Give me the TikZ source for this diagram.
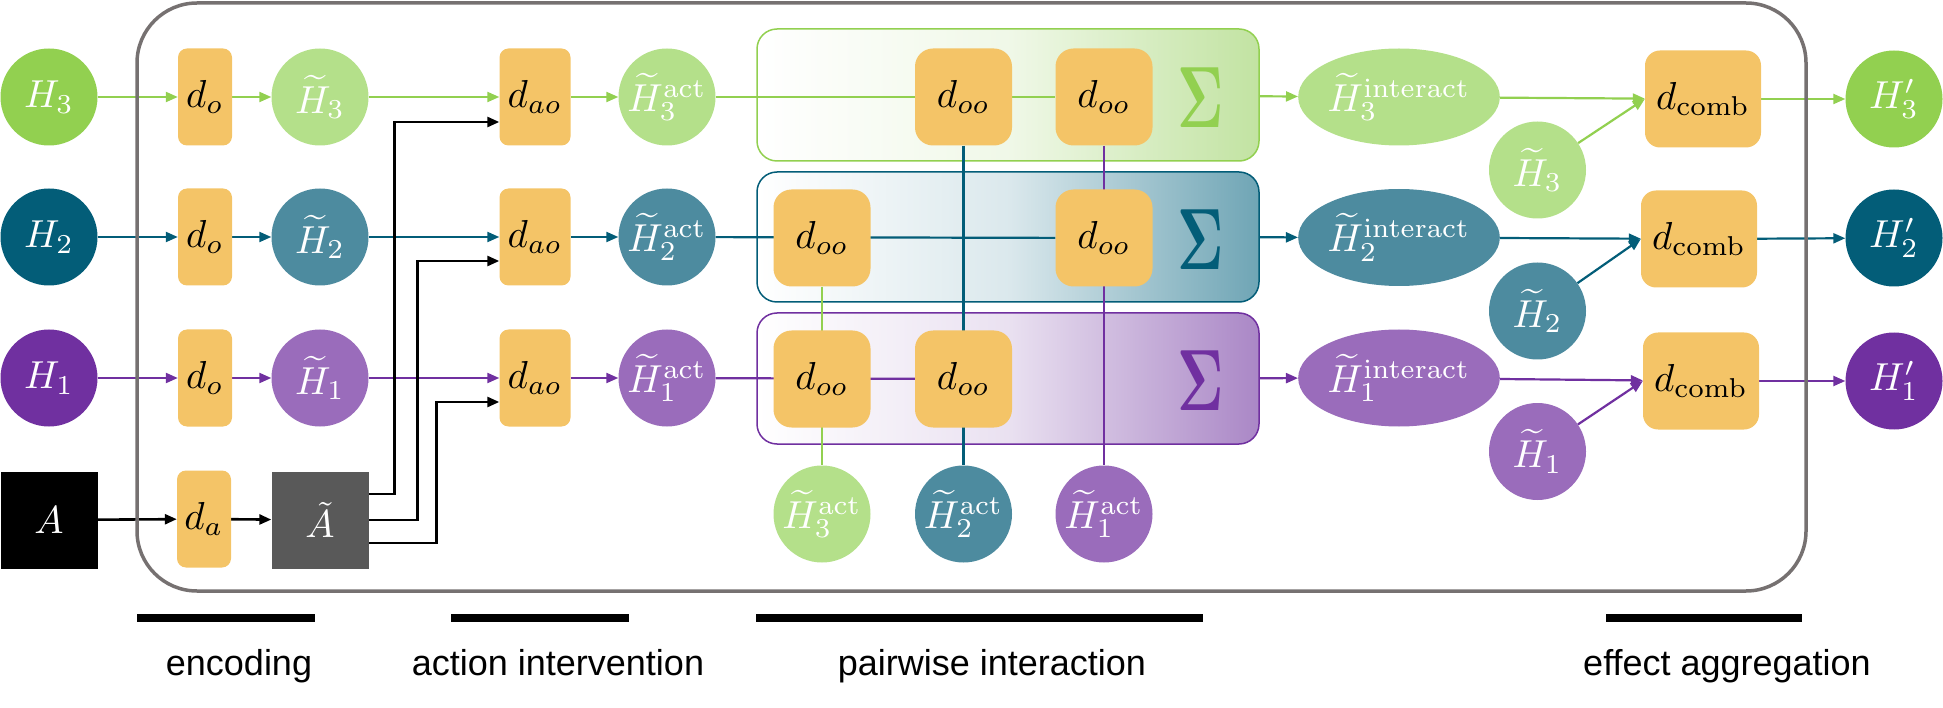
\documentclass[tikz,border=0pt]{standalone}
\usepackage{amsmath}
\usepackage{graphicx}
\usepackage[no-math]{fontspec}
\newfontfamily\stagefont{Liberation Sans}
\usepackage{xcolor}
\usepackage{tikz}
\usetikzlibrary{arrows.meta,positioning,calc,shapes.geometric}

\definecolor{grnD}{HTML}{92D050}
\definecolor{grnL}{HTML}{B4E08A}
\definecolor{grnS}{HTML}{C2E3A2}
\definecolor{bluD}{HTML}{035D78}
\definecolor{bluL}{HTML}{4D8B9F}
\definecolor{bluS}{HTML}{6FA5B5}
\definecolor{prpD}{HTML}{7030A0}
\definecolor{prpL}{HTML}{9A6CBB}
\definecolor{prpS}{HTML}{AA87C6}
\definecolor{blkL}{HTML}{595959}
\definecolor{boxO}{HTML}{F4C467}
\definecolor{frameG}{HTML}{767171}

\newcommand{\mt}[1]{\scalebox{3.9}{$#1$}}
\newcommand{\bigsum}{\scalebox{5.6}[8.7]{$\boldsymbol{\Sigma}$}}

\pgfdeclarelayer{back}
\pgfdeclarelayer{wires}
\pgfsetlayers{back,wires,main}

\begin{document}
\begin{tikzpicture}[x=1pt, y=-1pt,
    >={Triangle[length=12pt,width=10pt]},
    state/.style={circle, minimum size=97pt, inner sep=0pt, text=white},
    blob/.style={ellipse, minimum width=172pt, minimum height=97pt, inner sep=0pt, text=white},
    sq/.style={rectangle, minimum size=97pt, inner sep=0pt, text=white},
    enc/.style={rectangle, rounded corners=9pt, fill=boxO, minimum height=97pt, inner sep=0pt},
    pair/.style={enc, minimum width=97pt, rounded corners=18pt},
    group/.style={rectangle, rounded corners=20pt, line width=1.5pt, minimum width=502pt},
    sum/.style={inner sep=0pt},
    wire/.style={line width=2.2pt},
    blk/.style={line width=2.6pt, black},
    stage/.style={font=\stagefont\fontsize{36}{40}\selectfont, anchor=base},
    bar/.style={line width=8pt}]
    \useasboundingbox (0,0) rectangle (1943,708);

    % inputs
    \node[state, fill=grnD] (H3) at (49,97) {\mt{H_3}};
    \node[state, fill=bluD] (H2) at (49,237) {\mt{H_2}};
    \node[state, fill=prpD] (H1) at (49,378) {\mt{H_1}};
    \node[sq, fill=black] (A) at (49,520) {\mt{A}};

    % encoding
    \node[enc, minimum width=54pt] (do3) at (205,97) {\mt{d_o}};
    \node[enc, minimum width=54pt] (do2) at (205,237) {\mt{d_o}};
    \node[enc, minimum width=54pt] (do1) at (205,378) {\mt{d_o}};
    \node[enc, minimum width=54pt] (da) at (204,519) {\mt{d_a}};
    \node[state, fill=grnL] (Ht3) at (320,97) {\mt{\widetilde{H}_3}};
    \node[state, fill=bluL] (Ht2) at (320,237) {\mt{\widetilde{H}_2}};
    \node[state, fill=prpL] (Ht1) at (320,378) {\mt{\widetilde{H}_1}};
    \node[sq, fill=blkL] (At) at (320,520) {\mt{\tilde{A}}};

    % action intervention
    \node[enc, minimum width=71pt] (dao3) at (535,97) {\mt{d_{ao}}};
    \node[enc, minimum width=71pt] (dao2) at (535,237) {\mt{d_{ao}}};
    \node[enc, minimum width=71pt] (dao1) at (535,378) {\mt{d_{ao}}};
    \node[state, fill=grnL] (Ha3) at (667,97) {\mt{\widetilde{H}_3^{\mathrm{act}}}};
    \node[state, fill=bluL] (Ha2) at (667,237) {\mt{\widetilde{H}_2^{\mathrm{act}}}};
    \node[state, fill=prpL] (Ha1) at (667,378) {\mt{\widetilde{H}_1^{\mathrm{act}}}};

    % pairwise interaction
    \begin{pgfonlayer}{back}
    \node[group, minimum height=132pt, draw=grnD, left color=white, right color=grnS, middle color=grnS!25] (G3) at (1008,95) {};
    \node[group, minimum height=130pt, draw=bluD, left color=white, right color=bluS, middle color=bluS!25] (G2) at (1008,237) {};
    \node[group, minimum height=131pt, draw=prpD, left color=white, right color=prpS, middle color=prpS!25] (G1) at (1008,378.5) {};
    \end{pgfonlayer}
    \node[pair] (doo3b) at (963.5,97) {\mt{d_{oo}}};
    \node[pair] (doo3c) at (1104,97) {\mt{d_{oo}}};
    \node[pair] (doo2a) at (822,238) {\mt{d_{oo}}};
    \node[pair] (doo2c) at (1104,238) {\mt{d_{oo}}};
    \node[pair] (doo1a) at (822,379) {\mt{d_{oo}}};
    \node[pair] (doo1b) at (963.5,379) {\mt{d_{oo}}};
    \node[sum, text=grnD] (sum3) at (1201,98) {\bigsum};
    \node[sum, text=bluD] (sum2) at (1201,240) {\bigsum};
    \node[sum, text=prpD] (sum1) at (1201,381) {\bigsum};
    \node[state, fill=grnL] (Hb3) at (822,514) {\mt{\widetilde{H}_3^{\mathrm{act}}}};
    \node[state, fill=bluL] (Hb2) at (963.5,514) {\mt{\widetilde{H}_2^{\mathrm{act}}}};
    \node[state, fill=prpL] (Hb1) at (1104,514) {\mt{\widetilde{H}_1^{\mathrm{act}}}};

    % effect aggregation
    \node[blob, fill=grnL] (Hi3) at (1399,97) {\mt{\widetilde{H}_3^{\mathrm{interact}}}};
    \node[blob, fill=bluL] (Hi2) at (1399,237.5) {\mt{\widetilde{H}_2^{\mathrm{interact}}}};
    \node[blob, fill=prpL] (Hi1) at (1399,378) {\mt{\widetilde{H}_1^{\mathrm{interact}}}};
    \node[state, fill=grnL] (Hs3) at (1537.5,170) {\mt{\widetilde{H}_3}};
    \node[state, fill=bluL] (Hs2) at (1537.5,311) {\mt{\widetilde{H}_2}};
    \node[state, fill=prpL] (Hs1) at (1537.5,451.5) {\mt{\widetilde{H}_1}};
    \node[enc, minimum width=116pt, rounded corners=15pt] (dc3) at (1703,99) {\mt{d_{\mathrm{comb}}}};
    \node[enc, minimum width=116pt, rounded corners=15pt] (dc2) at (1699,239) {\mt{d_{\mathrm{comb}}}};
    \node[enc, minimum width=116pt, rounded corners=15pt] (dc1) at (1701,381) {\mt{d_{\mathrm{comb}}}};
    \node[state, fill=grnD] (Hp3) at (1894,99) {\mt{H_3'}};
    \node[state, fill=bluD] (Hp2) at (1894,238) {\mt{H_2'}};
    \node[state, fill=prpD] (Hp1) at (1894,381) {\mt{H_1'}};

    \begin{pgfonlayer}{wires}
    % row 3
    \draw[wire, grnD, ->] (H3) -- (do3);
    \draw[wire, grnD, ->] (do3) -- (Ht3);
    \draw[wire, grnD, ->] (Ht3) -- (dao3);
    \draw[wire, grnD, ->] (dao3) -- (Ha3);
    \draw[wire, grnD] (Ha3) -- (doo3c);
    \draw[wire, grnD, ->] (G3) -- (Hi3);
    \draw[wire, grnD, ->] (Hi3) -- (dc3);
    \draw[wire, grnD, ->] (Hs3) -- (dc3.west);
    \draw[wire, grnD, ->] (dc3) -- (Hp3);
    % row 2
    \draw[wire, bluD, ->] (H2) -- (do2);
    \draw[wire, bluD, ->] (do2) -- (Ht2);
    \draw[wire, bluD, ->] (Ht2) -- (dao2);
    \draw[wire, bluD, ->] (dao2) -- (Ha2);
    \draw[wire, bluD] (Ha2) -- (doo2c);
    \draw[wire, bluD, ->] (G2) -- (Hi2);
    \draw[wire, bluD, ->] (Hi2) -- (dc2);
    \draw[wire, bluD, ->] (Hs2) -- (dc2.west);
    \draw[wire, bluD, ->] (dc2) -- (Hp2);
    % row 1
    \draw[wire, prpD, ->] (H1) -- (do1);
    \draw[wire, prpD, ->] (do1) -- (Ht1);
    \draw[wire, prpD, ->] (Ht1) -- (dao1);
    \draw[wire, prpD, ->] (dao1) -- (Ha1);
    \draw[wire, prpD] (Ha1) -- (doo1b);
    \draw[wire, prpD, ->] (G1) -- (Hi1);
    \draw[wire, prpD, ->] (Hi1) -- (dc1);
    \draw[wire, prpD, ->] (Hs1) -- (dc1.west);
    \draw[wire, prpD, ->] (dc1) -- (Hp1);
    % pairs
    \draw[wire, grnD] (doo2a) -- (Hb3);
    \draw[wire, bluD] (doo3b) -- (Hb2);
    \draw[wire, prpD] (doo3c) -- (Hb1);
    % action
    \draw[blk, ->] (A) -- (da);
    \draw[blk, ->] (da) -- (At);
    \draw[blk, ->] ([yshift=26pt]At.east) -- ++(26,0) |- ([yshift=-25pt]dao3.west);
    \draw[blk, ->] (At.east) -- ++(49,0) |- ([yshift=-24pt]dao2.west);
    \draw[blk, ->] ([yshift=-23pt]At.east) -- ++(68,0) |- ([yshift=-24pt]dao1.west);
    \end{pgfonlayer}

    \draw[frameG, line width=3.5pt, rounded corners=60pt] (137,3) rectangle (1806,591);

    % stages
    \draw[bar] (137,618) -- (315,618);
    \draw[bar] (451,618) -- (629,618);
    \draw[bar] (756,618) -- (1203,618);
    \draw[bar] (1606,618) -- (1802,618);
    \node[stage] (lenc) at (239,675) {encoding};
    \node[stage] (lact) at (558,675) {action intervention};
    \node[stage] (lpair) at (992,675) {pairwise interaction};
    \node[stage] (lagg) at (1727,675) {effect aggregation};
\end{tikzpicture}
\end{document}
